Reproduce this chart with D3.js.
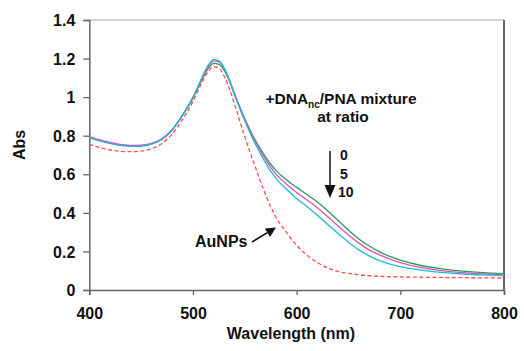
<!DOCTYPE html>
<html><head><meta charset="utf-8">
<script src="https://cdn.jsdelivr.net/npm/d3@7"></script>
<style>
body{margin:0;background:#fff;}
text{font-family:"Liberation Sans",Arial,sans-serif;font-weight:bold;fill:#111;}
</style></head>
<body><svg id="c" width="524" height="351"></svg>
<script>
const wavelengths = [400,410,420,430,440,450,460,470,480,490,500,505,510,515,520,525,530,535,540,545,550,555,560,565,570,575,580,590,600,610,620,630,640,650,660,670,680,690,700,720,740,760,780,800];
const ratio0  = [0.790,0.775,0.762,0.752,0.748,0.749,0.758,0.782,0.830,0.905,0.995,1.050,1.105,1.150,1.175,1.170,1.140,1.085,1.015,0.950,0.888,0.830,0.778,0.732,0.690,0.652,0.620,0.572,0.532,0.495,0.456,0.410,0.360,0.310,0.265,0.228,0.198,0.174,0.155,0.127,0.110,0.098,0.090,0.085];
const ratio5  = [0.795,0.778,0.765,0.755,0.750,0.751,0.760,0.784,0.832,0.908,0.998,1.055,1.112,1.160,1.188,1.183,1.150,1.092,1.020,0.950,0.885,0.825,0.770,0.722,0.677,0.636,0.601,0.550,0.506,0.467,0.427,0.380,0.332,0.285,0.243,0.208,0.182,0.160,0.142,0.116,0.100,0.090,0.083,0.078];
const ratio10 = [0.790,0.773,0.760,0.750,0.745,0.746,0.756,0.780,0.830,0.908,1.000,1.058,1.118,1.168,1.195,1.188,1.152,1.090,1.015,0.943,0.877,0.815,0.758,0.707,0.659,0.616,0.579,0.524,0.475,0.432,0.388,0.340,0.293,0.248,0.208,0.177,0.152,0.134,0.121,0.103,0.091,0.083,0.078,0.075];
const aunps   = [0.755,0.738,0.726,0.719,0.717,0.720,0.732,0.760,0.810,0.885,0.978,1.035,1.090,1.135,1.158,1.150,1.110,1.045,0.965,0.880,0.795,0.715,0.640,0.565,0.495,0.432,0.378,0.300,0.232,0.180,0.142,0.114,0.096,0.086,0.079,0.074,0.071,0.069,0.068,0.066,0.065,0.064,0.063,0.062];
const xTicks = [400,500,600,700,800];
const yTicks = [0,0.2,0.4,0.6,0.8,1,1.2,1.4];
const ratioLabels = ["0","5","10"];

const svg = d3.select("#c");
const x = d3.scaleLinear().domain([400,800]).range([89.3,504]);
const y = d3.scaleLinear().domain([0,1.4]).range([290,20]);

// frame
svg.append("line").attr("x1",89.3).attr("x2",504).attr("y1",20).attr("y2",20).attr("stroke","#aaa").attr("stroke-width",1.2);
svg.append("line").attr("x1",504).attr("x2",504).attr("y1",20).attr("y2",290).attr("stroke","#555").attr("stroke-width",1.8);

const xAxis = svg.append("g").attr("transform","translate(0,290)")
  .call(d3.axisBottom(x).tickValues(xTicks).tickSize(5).tickFormat(d3.format("d")));
const yAxis = svg.append("g").attr("transform","translate(89.3,0)")
  .call(d3.axisLeft(y).tickValues(yTicks).tickSize(6).tickFormat(d=>d3.format("")(d)));
[xAxis,yAxis].forEach(g=>{
  g.select(".domain").attr("stroke","#666").attr("stroke-width",1.5);
  g.selectAll(".tick line").attr("stroke","#666").attr("stroke-width",1.3);
  g.selectAll("text").attr("font-size",16).attr("font-family","Liberation Sans, Arial, sans-serif").attr("font-weight","bold").attr("fill","#111");
});
xAxis.selectAll("text").attr("dy",0).attr("y",29);
yAxis.selectAll("text").attr("x",-14).attr("dy","0.35em");

svg.append("text").attr("x",291).attr("y",339).attr("text-anchor","middle").attr("font-size",16).text("Wavelength (nm)");
svg.append("text").attr("transform","translate(25,145) rotate(-90)").attr("text-anchor","middle").attr("font-size",16).text("Abs");

const line = d3.line().x((d,i)=>x(wavelengths[i])).y(d=>y(d)).curve(d3.curveMonotoneX);
const series = [
  {v:aunps, c:"#ff4d4d", dash:"4,2.5"},
  {v:ratio0, c:"#2a9a55"},
  {v:ratio5, c:"#e050b0"},
  {v:ratio10, c:"#20b8d8"}
];
series.forEach(s=>{
  svg.append("path").datum(s.v).attr("d",line).attr("fill","none")
    .attr("stroke",s.c).attr("stroke-width",1.3).attr("stroke-dasharray",s.dash||null);
});

// annotations
const t1 = svg.append("text").attr("x",341).attr("y",104).attr("text-anchor","middle").attr("font-size",15.5);
t1.append("tspan").text("+DNA");
t1.append("tspan").attr("font-size",10).attr("dy",4).text("nc");
t1.append("tspan").attr("dy",-4).text("/PNA mixture");
svg.append("text").attr("x",343).attr("y",122).attr("text-anchor","middle").attr("font-size",15.5).text("at ratio");

svg.selectAll(".rl").data(ratioLabels).enter().append("text")
  .attr("x",(d,i)=> i==2 ? 338 : 340).attr("y",(d,i)=>160+i*18.5).attr("font-size",14).text(d=>d);

// vertical arrow
svg.append("line").attr("x1",330).attr("x2",330).attr("y1",151).attr("y2",186).attr("stroke","#111").attr("stroke-width",1.5);
svg.append("path").attr("d","M324.5,185 L335.5,185 L330,198 Z").attr("fill","#111");

svg.append("text").attr("x",195).attr("y",247).attr("font-size",16).text("AuNPs");
// AuNPs arrow
const ax0=252, ay0=242, ax1=276, ay1=227.5;
const ang = Math.atan2(ay1-ay0, ax1-ax0);
const hl=10, hw=5;
const bx = ax1 - hl*Math.cos(ang), by = ay1 - hl*Math.sin(ang);
svg.append("line").attr("x1",ax0).attr("y1",ay0).attr("x2",bx).attr("y2",by).attr("stroke","#111").attr("stroke-width",1.6);
svg.append("path").attr("d",`M${ax1},${ay1} L${bx+hw*Math.sin(ang)},${by-hw*Math.cos(ang)} L${bx-hw*Math.sin(ang)},${by+hw*Math.cos(ang)} Z`).attr("fill","#111");
</script></body></html>
